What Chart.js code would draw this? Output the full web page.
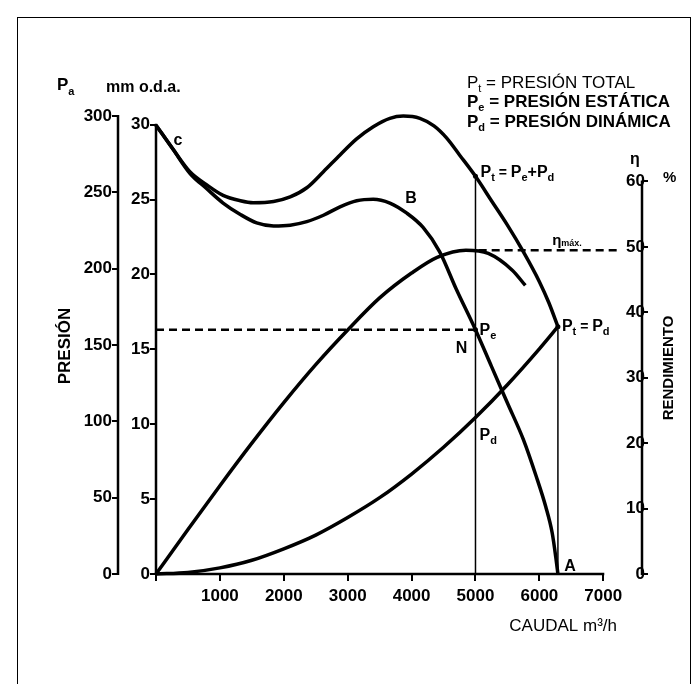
<!DOCTYPE html>
<html><head><meta charset="utf-8">
<script src="https://cdn.jsdelivr.net/npm/chart.js@4/dist/chart.umd.min.js"></script>
<style>html,body{margin:0;padding:0;background:#fff}#wrap{width:692px;height:684px}</style>
</head><body><div id="wrap"><canvas id="c" width="692" height="684"></canvas></div>
<script>
const FAM = '"Liberation Sans", Arial, Helvetica, sans-serif';

// tick labels
const caudalTicks = [0,1000,2000,3000,4000,5000,6000,7000];
const presionPaTicks = [0,50,100,150,200,250,300];
const presionMmTicks = [0,5,10,15,20,25,30];
const rendimientoTicks = [0,10,20,30,40,50,60];

// Presión total (Pa) vs caudal (m3/h)
const qTotal = [0,270,530,790,1050,1320,1520,1840,2100,2360,2620,2880,3140,3400,3660,3870,4130,4350,4550,4750,5000,5250,5500,5750,6000,6150,6290];
const pTotal = [294,278,263.5,255,248,244.5,243.2,244,247,253,263.5,274.5,285,293,298.5,300,298.5,293.5,285.5,274.5,260.5,244.5,228.5,211,191.5,177.5,162];

// Presión estática
const qEstatica = [0,270,530,790,1050,1320,1575,1840,2100,2360,2620,2880,3140,3400,3660,3920,4180,4440,4700,5000,5250,5500,5750,5950,6100,6200,6260,6290];
const pEstatica = [294,278,262.5,252.5,243,235.5,230,228,228.5,230.8,235,240.5,244.5,245.5,243,236.5,227,211,186.5,160,136,112,88,64,44,27,10,0];

// Presión dinámica
const qDinamica = [0,500,1000,1500,2000,2500,3000,3500,4000,4500,5000,5500,6000,6290];
const pDinamica = [0,1,4,9,16.5,25.5,37,50,65.5,83,102.5,124,147.5,162];

// Rendimiento (%)
const qRend = [0,500,1000,1500,2000,2500,3000,3500,4000,4400,4850,5200,5580,5780];
const rend = [0,6.8,13.5,20,26.2,32,37.3,42.2,46,48.4,49.5,49,46.4,44.1];

// puntos singulares
const qN = 5000, pEstN = 160, pTotN = 260.5;
const qA = 6290, pTotA = 162;
const rendMax = 49.5, qRendMaxDesde = 5050, qRendMaxHasta = 7210;
const mmPorPa = 1/9.81;

function pts(xs, ys){ return xs.map((x,i)=>({x, y: ys[i]})); }
const K = '#000';
const curve = (data, axis) => ({data, yAxisID: axis, borderColor: K, borderWidth: 3.5, pointRadius: 0, cubicInterpolationMode: 'monotone', fill: false, clip: false});

const tickFont = {family: FAM, size: 17, weight: 'bold'};
const grid = (tl) => ({drawOnChartArea: false, drawTicks: true, tickLength: tl, color: K, lineWidth: 2});

function rich(ctx, x, y, parts, align) {
  let w = 0;
  parts.forEach(p => { ctx.font = `${p[2]||'bold'} ${p[1]}px ${FAM}`; p.w = ctx.measureText(p[0]).width; w += p.w; });
  let cx = align === 'right' ? x - w : (align === 'center' ? x - w/2 : x);
  parts.forEach(p => { ctx.font = `${p[2]||'bold'} ${p[1]}px ${FAM}`; ctx.fillText(p[0], cx, y + (p[3]||0)); cx += p.w; });
}

const decor = {
  id: 'decor',
  beforeDatasetsDraw(chart) {
    const {ctx, scales: s, chartArea: a} = chart;
    ctx.save();
    ctx.strokeStyle = K; ctx.lineWidth = 2.5; ctx.lineCap = 'butt';
    ctx.beginPath();
    ctx.moveTo(s.yPa.right, s.yPa.getPixelForValue(300) - 1); ctx.lineTo(s.yPa.right, s.yPa.getPixelForValue(0) + 1);
    ctx.moveTo(a.left, s.yMm.getPixelForValue(30) - 1); ctx.lineTo(a.left, s.yMm.getPixelForValue(0) + 1);
    ctx.moveTo(a.right, s.yEta.getPixelForValue(60) - 1); ctx.lineTo(a.right, s.yEta.getPixelForValue(0) + 1);
    ctx.moveTo(s.x.getPixelForValue(0) - 1, a.bottom); ctx.lineTo(s.x.getPixelForValue(7000) + 1, a.bottom);
    ctx.stroke();
    ctx.restore();
  },
  afterDraw(chart) {
    const {ctx, scales: s} = chart;
    const X = v => s.x.getPixelForValue(v), Y = v => s.yPa.getPixelForValue(v), E = v => s.yEta.getPixelForValue(v);
    ctx.save();
    ctx.fillStyle = K; ctx.textBaseline = 'alphabetic'; ctx.textAlign = 'left';
    ctx.strokeStyle = K; ctx.lineWidth = 1;
    ctx.strokeRect(17.5, 17.5, 673, 700);
    rich(ctx, 467, 88, [['P',17,'normal'],['t',11,'normal',4],[' = PRESIÓN TOTAL',17,'normal']]);
    rich(ctx, 467, 107, [['P',17],['e',11,'bold',4],[' = PRESIÓN ESTÁTICA',17]]);
    rich(ctx, 467, 127, [['P',17],['d',11,'bold',4],[' = PRESIÓN DINÁMICA',17]]);
    rich(ctx, 57, 90, [['P',17],['a',11,'bold',5]]);
    rich(ctx, 106, 92, [['mm o.d.a.',16]]);
    rich(ctx, 630, 164, [['η',16,'bold']]);
    rich(ctx, 663, 182, [['%',15,'bold']]);
    ctx.save(); ctx.translate(65, 346); ctx.rotate(-Math.PI/2); ctx.textBaseline = 'middle';
    rich(ctx, 0, 0, [['PRESIÓN',17]], 'center'); ctx.restore();
    ctx.save(); ctx.translate(669, 368); ctx.rotate(-Math.PI/2); ctx.textBaseline = 'middle';
    rich(ctx, 0, 0, [['RENDIMIENTO',15]], 'center'); ctx.restore();
    rich(ctx, 617, 631, [['CAUDAL m³/h',17,'normal']], 'right');
    rich(ctx, X(0) + 22, Y(294) + 20, [['c',16]], 'center');
    rich(ctx, X(3990), Y(247) + 6, [['B',16]], 'center');
    rich(ctx, X(qN) - 14, Y(pEstN) + 23, [['N',16]], 'center');
    rich(ctx, X(qA) + 12, Y(0) - 3, [['A',16]], 'center');
    rich(ctx, X(qN) + 4, Y(pEstN) + 5, [['P',16],['e',11,'bold',4]]);
    rich(ctx, X(qN) + 4, Y(102.5) + 22, [['P',16],['d',11,'bold',4]]);
    rich(ctx, X(qN) + 5, Y(pTotN) + 1, [['P',16],['t',11,'bold',4],[' = ',14],['P',16],['e',11,'bold',4],['+',16],['P',16],['d',11,'bold',4]]);
    rich(ctx, X(qA) + 4, Y(pTotA) + 4, [['P',16],['t',11,'bold',4],[' = ',14],['P',16],['d',11,'bold',4]]);
    rich(ctx, X(6200), E(rendMax) - 5, [['η',15],['máx.',9,'bold',1]]);
    ctx.restore();
  }
};

new Chart(document.getElementById('c'), {
  type: 'line',
  data: {
    datasets: [
      curve(pts(qTotal, pTotal), 'yPa'),
      curve(pts(qEstatica, pEstatica), 'yPa'),
      curve(pts(qDinamica, pDinamica), 'yPa'),
      curve(pts(qRend, rend), 'yEta'),
      {data: [{x:qN,y:0},{x:qN,y:pTotN}], yAxisID:'yPa', borderColor:K, borderWidth:1.5, pointRadius:0},
      {data: [{x:qA,y:0},{x:qA,y:pTotA}], yAxisID:'yPa', borderColor:K, borderWidth:1.5, pointRadius:0},
      {data: [{x:0,y:pEstN},{x:qN,y:pEstN}], yAxisID:'yPa', borderColor:K, borderWidth:2.5, borderDash:[8,5], pointRadius:0},
      {data: [{x:qRendMaxDesde,y:rendMax},{x:qRendMaxHasta,y:rendMax}], yAxisID:'yEta', borderColor:K, borderWidth:2.5, borderDash:[8,5], pointRadius:0},
      {data: [{x:qN,y:pTotN},{x:qN,y:pEstN},{x:qA,y:pTotA}], yAxisID:'yPa', showLine:false, pointRadius:2.5, pointBackgroundColor:K, pointBorderWidth:0}
    ]
  },
  options: {
    responsive: false, animation: false, devicePixelRatio: 1, events: [],
    layout: {padding: {left: 0, right: 0, top: 116, bottom: 0}},
    plugins: {legend: {display: false}, tooltip: {enabled: false}, title: {display: false}},
    scales: {
      x: {type: 'linear', position: 'bottom', min: 0, max: 7606,
          border: {display: false}, grid: grid(7),
          ticks: {font: tickFont, color: K, padding: 5, maxRotation: 0, autoSkip: false,
                  callback: v => v === 0 ? '' : String(v)},
          afterBuildTicks: sc => { sc.ticks = caudalTicks.map(v => ({value: v})); },
          afterFit: sc => { sc.height = 110; }},
      yPa: {type: 'linear', position: 'left', weight: 1, min: 0, max: 300,
          border: {display: false}, grid: grid(6),
          ticks: {font: tickFont, color: K, padding: 0, callback: v => String(v)},
          afterBuildTicks: sc => { sc.ticks = presionPaTicks.map(v => ({value: v})); },
          afterFit: sc => { sc.width = 118; }},
      yMm: {type: 'linear', position: 'left', weight: 0, min: 0, max: 300 * mmPorPa,
          border: {display: false}, grid: grid(6),
          ticks: {font: tickFont, color: K, padding: 0, callback: v => String(v)},
          afterBuildTicks: sc => { sc.ticks = presionMmTicks.map(v => ({value: v})); },
          afterFit: sc => { sc.width = 38; }},
      yEta: {type: 'linear', position: 'right', min: 0, max: 70,
          border: {display: false}, grid: grid(6),
          ticks: {font: tickFont, color: K, padding: 3, mirror: true, callback: v => String(v)},
          afterBuildTicks: sc => { sc.ticks = rendimientoTicks.map(v => ({value: v})); },
          afterFit: sc => { sc.width = 50; }}
    }
  },
  plugins: [decor]
});
</script></body></html>
